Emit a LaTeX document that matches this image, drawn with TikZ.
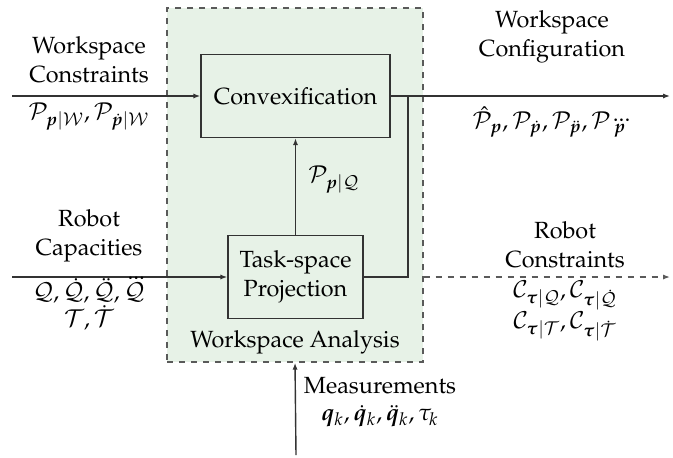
\documentclass[tikz,border=0pt]{standalone}
\usepackage{amsmath}
\usepackage[T1]{fontenc}
\usepackage{mathpazo}
\usepackage{bm}
\usetikzlibrary{arrows.meta}
\definecolor{wagreen}{HTML}{E7F2E7}
\definecolor{dashgray}{HTML}{5A5A5A}
\definecolor{linegray}{HTML}{333333}
\tikzset{
  every node/.style={font=\fontsize{11.7}{14.5}\selectfont},
  block/.style={draw=linegray, line width=0.7pt, fill=wagreen, inner sep=0pt, align=center},
  analysis/.style={draw=dashgray, line width=0.7pt, dashed, fill=wagreen, inner sep=0pt},
  conn/.style={draw=linegray, line width=0.7pt, -{Latex[length=3.5pt,width=2.6pt]}},
  plain/.style={draw=linegray, line width=0.7pt},
  lbl/.style={align=center, inner sep=0pt},
}
\begin{document}
\begin{tikzpicture}[x=0.5pt,y=-0.5pt]
\useasboundingbox (0,0) rectangle (673,457);
% background analysis box
\node[analysis, minimum width=128pt, minimum height=177pt] (wa) at (295,185) {};
\node[lbl] (walbl) at (295,342) {Workspace Analysis};
% blocks
\node[block, minimum width=94.5pt, minimum height=41.5pt] (conv) at (295.5,96) {Convexification};
\node[block, minimum width=67.5pt, minimum height=41.5pt] (task) at (295.5,277) {Task-space\\Projection};
% free ends
\coordinate (wcin) at (12,96);
\coordinate (rcin) at (12,277);
\coordinate (wout) at (670,96);
\coordinate (rout) at (670,277);
\coordinate (join) at (408,96);
\coordinate (meas) at (296,455);
% connectors
\draw[conn] (wcin) -- (conv.west);
\draw[conn] (rcin) -- (task.west);
\draw[conn] (conv.east) -- (wout);
\draw[conn] (task.north) -- (conv.south);
\draw[plain] (task.east) -| (join);
\draw[conn, dashed, draw=dashgray] (wa.east |- task.east) -- (rout);
\draw[conn] (meas) -- (wa.south);
% labels
\node[lbl] (wclbl) at (89,60) {Workspace\\Constraints};
\node[lbl] (wcmath) at (89,117) {$\mathcal{P}_{\bm{p}|\mathcal{W}},\mathcal{P}_{\dot{\bm{p}}|\mathcal{W}}$};
\node[lbl] (wolbl) at (552,37) {Workspace\\Configuration};
\node[lbl] (womath) at (552,122) {$\hat{\mathcal{P}}_{\bm{p}},\mathcal{P}_{\dot{\bm{p}}},\mathcal{P}_{\ddot{\bm{p}}},\mathcal{P}_{\dddot{\bm{p}}}$};
\node[lbl] (rclbl) at (89,236) {Robot\\Capacities};
\node[lbl] (rcmath) at (89,304) {$\mathcal{Q},\dot{\mathcal{Q}},\ddot{\mathcal{Q}},\dddot{\mathcal{Q}}$\\[-1pt]$\mathcal{T},\dot{\mathcal{T}}$};
\node[lbl] (rolbl) at (565,245) {Robot\\Constraints};
\node[lbl] (romath) at (565,311) {$\mathcal{C}_{\bm{\tau}|\mathcal{Q}},\mathcal{C}_{\bm{\tau}|\dot{\mathcal{Q}}}$\\[1pt]$\mathcal{C}_{\bm{\tau}|\mathcal{T}},\mathcal{C}_{\bm{\tau}|\dot{\mathcal{T}}}$};
\node[lbl, anchor=west] (pq) at (308,180) {$\mathcal{P}_{\bm{p}|\mathcal{Q}}$};
\node[lbl] (mlbl) at (380,402) {Measurements\\[-1pt]$\bm{q}_k,\dot{\bm{q}}_k,\ddot{\bm{q}}_k,\tau_k$};
\end{tikzpicture}
\end{document}
